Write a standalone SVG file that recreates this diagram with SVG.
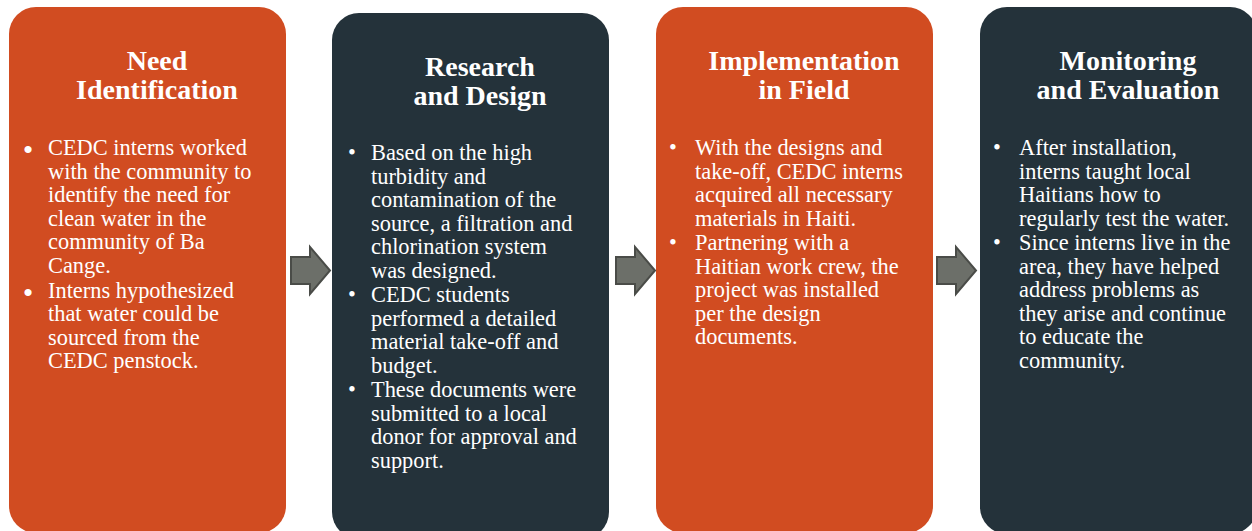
<svg xmlns="http://www.w3.org/2000/svg" width="1252" height="531" viewBox="0 0 1252 531">
  <style>
    .card-orange { fill: #D14C21; }
    .card-dark { fill: #24323A; }
    .title { font-family: "Liberation Serif", "Times New Roman", serif; font-weight: bold; font-size: 28px; fill: #FFFFFF; text-anchor: middle; }
    .body { font-family: "Liberation Serif", "Times New Roman", serif; font-size: 22.4px; fill: #FFFFFF; }
    .dot { font-family: "Liberation Sans", Arial, sans-serif; font-size: 26px; fill: #FFFFFF; }
    .dot-s { font-family: "Liberation Serif", "Times New Roman", serif; font-size: 22.4px; fill: #FFFFFF; }
    .arrow { fill: #6C6F69; stroke: #4A4C48; stroke-width: 2; stroke-linejoin: miter; }
  </style>
  <rect width="1252" height="531" fill="#FFFFFF"/>

  <!-- Step 1 -->
  <g id="need-identification">
    <rect class="card-orange" x="9" y="7" width="277" height="526" rx="27" ry="27"/>
    <text class="title" x="157" y="70">Need</text>
    <text class="title" x="157" y="99">Identification</text>
    <text class="dot" x="23.5" y="158">•</text>
    <text class="body" x="48">
      <tspan x="48" y="155">CEDC interns worked</tspan>
      <tspan x="48" y="178.5">with the community to</tspan>
      <tspan x="48" y="202">identify the need for</tspan>
      <tspan x="48" y="225.5">clean water in the</tspan>
      <tspan x="48" y="249">community of Ba</tspan>
      <tspan x="48" y="272.5">Cange.</tspan>
    </text>
    <text class="dot" x="23.5" y="300.5">•</text>
    <text class="body">
      <tspan x="48" y="297.5">Interns hypothesized</tspan>
      <tspan x="48" y="321">that water could be</tspan>
      <tspan x="48" y="344.5">sourced from the</tspan>
      <tspan x="48" y="368">CEDC penstock.</tspan>
    </text>
  </g>

  <!-- Step 2 -->
  <g id="research-and-design">
    <rect class="card-dark" x="332" y="13" width="277" height="526" rx="27" ry="27"/>
    <text class="title" x="480" y="76">Research</text>
    <text class="title" x="480" y="105">and Design</text>
    <text class="dot-s" x="348" y="160">•</text>
    <text class="body">
      <tspan x="371" y="160">Based on the high</tspan>
      <tspan x="371" y="183.5">turbidity and</tspan>
      <tspan x="371" y="207">contamination of the</tspan>
      <tspan x="371" y="230.5">source, a filtration and</tspan>
      <tspan x="371" y="254">chlorination system</tspan>
      <tspan x="371" y="277.5">was designed.</tspan>
    </text>
    <text class="dot-s" x="348" y="302">•</text>
    <text class="body">
      <tspan x="371" y="302">CEDC students</tspan>
      <tspan x="371" y="325.5">performed a detailed</tspan>
      <tspan x="371" y="349">material take-off and</tspan>
      <tspan x="371" y="372.5">budget.</tspan>
    </text>
    <text class="dot-s" x="348" y="397">•</text>
    <text class="body">
      <tspan x="371" y="397">These documents were</tspan>
      <tspan x="371" y="420.5">submitted to a local</tspan>
      <tspan x="371" y="444">donor for approval and</tspan>
      <tspan x="371" y="468">support.</tspan>
    </text>
  </g>

  <!-- Step 3 -->
  <g id="implementation-in-field">
    <rect class="card-orange" x="656" y="7" width="277" height="526" rx="27" ry="27"/>
    <text class="title" x="804" y="70">Implementation</text>
    <text class="title" x="804" y="99">in Field</text>
    <text class="dot-s" x="669" y="155">•</text>
    <text class="body">
      <tspan x="695" y="155">With the designs and</tspan>
      <tspan x="695" y="178.5">take-off, CEDC interns</tspan>
      <tspan x="695" y="202">acquired all necessary</tspan>
      <tspan x="695" y="225.5">materials in Haiti.</tspan>
    </text>
    <text class="dot-s" x="669" y="250">•</text>
    <text class="body">
      <tspan x="695" y="250">Partnering with a</tspan>
      <tspan x="695" y="273.5">Haitian work crew, the</tspan>
      <tspan x="695" y="297">project was installed</tspan>
      <tspan x="695" y="320.5">per the design</tspan>
      <tspan x="695" y="344">documents.</tspan>
    </text>
  </g>

  <!-- Step 4 -->
  <g id="monitoring-and-evaluation">
    <rect class="card-dark" x="980" y="7" width="277" height="527" rx="27" ry="27"/>
    <text class="title" x="1128" y="70">Monitoring</text>
    <text class="title" x="1128" y="99">and Evaluation</text>
    <text class="dot-s" x="993" y="155">•</text>
    <text class="body">
      <tspan x="1019" y="155">After installation,</tspan>
      <tspan x="1019" y="178.5">interns taught local</tspan>
      <tspan x="1019" y="202">Haitians how to</tspan>
      <tspan x="1019" y="225.5">regularly test the water.</tspan>
    </text>
    <text class="dot-s" x="993" y="250">•</text>
    <text class="body">
      <tspan x="1019" y="250">Since interns live in the</tspan>
      <tspan x="1019" y="273.5">area, they have helped</tspan>
      <tspan x="1019" y="297">address problems as</tspan>
      <tspan x="1019" y="320.5">they arise and continue</tspan>
      <tspan x="1019" y="344">to educate the</tspan>
      <tspan x="1019" y="367.5">community.</tspan>
    </text>
  </g>

  <!-- Block arrows between steps -->
  <g id="connectors">
    <polygon class="arrow" points="291,257 310,257 310,247 330,270.5 310,294 310,284 291,284"/>
    <polygon class="arrow" points="616,257 635,257 635,247 655,270.5 635,294 635,284 616,284"/>
    <polygon class="arrow" points="937,257 956,257 956,247 976,270.5 956,294 956,284 937,284"/>
  </g>
</svg>
